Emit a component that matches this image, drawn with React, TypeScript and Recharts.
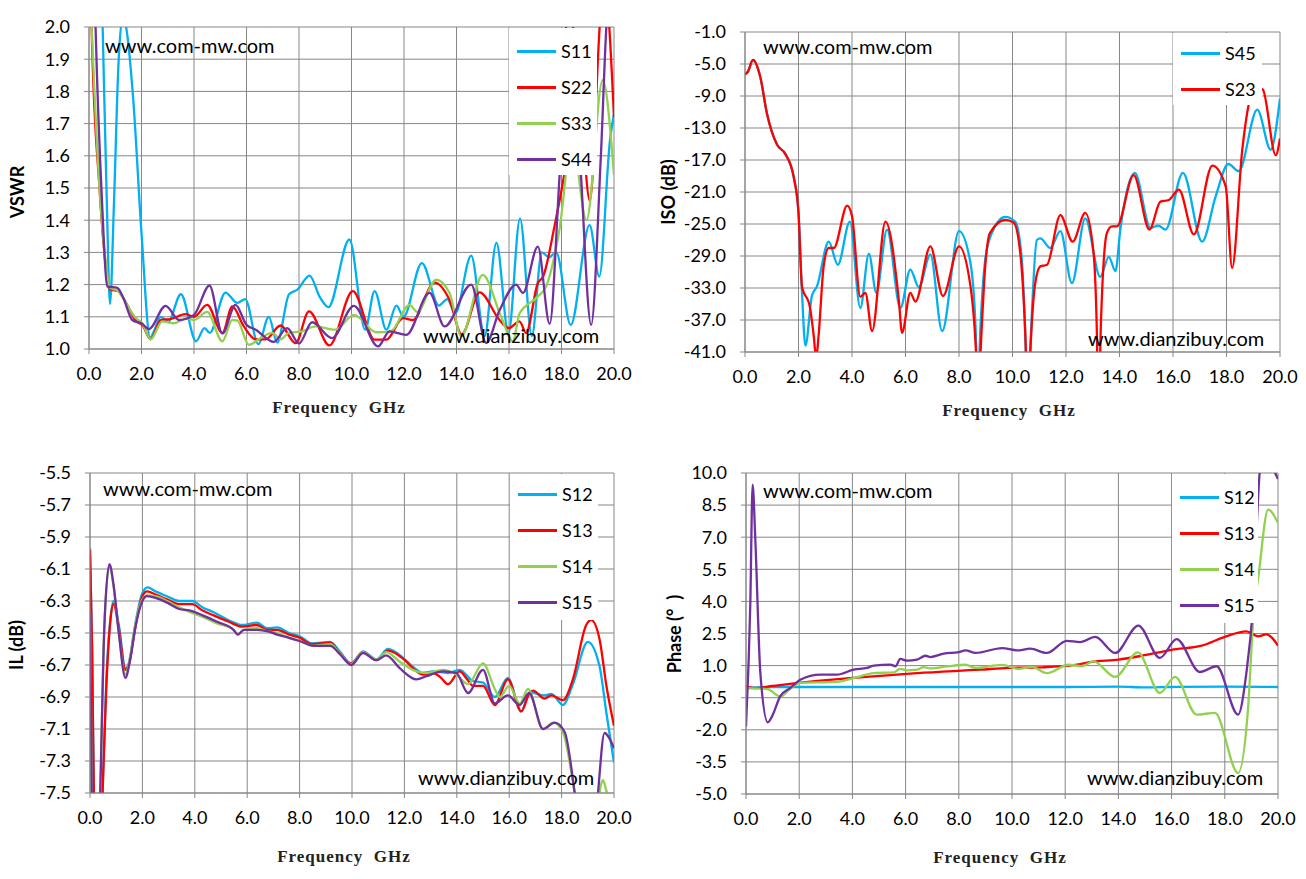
import { LineChart, Line, XAxis, YAxis, CartesianGrid } from 'recharts';

type Pt = [number, number];

// axis ticks
const FREQ_TICKS = [0, 2, 4, 6, 8, 10, 12, 14, 16, 18, 20];
const VSWR_TICKS = [1.0, 1.1, 1.2, 1.3, 1.4, 1.5, 1.6, 1.7, 1.8, 1.9, 2.0];
const ISO_TICKS = [-41, -37, -33, -29, -25, -21, -17, -13, -9, -5, -1];
const IL_TICKS = [-7.5, -7.3, -7.1, -6.9, -6.7, -6.5, -6.3, -6.1, -5.9, -5.7, -5.5];
const PHASE_TICKS = [-5, -3.5, -2, -0.5, 1, 2.5, 4, 5.5, 7, 8.5, 10];

// VSWR (GHz, ratio)
const vswrS11: Pt[] = [
  [0, 3.3], [0.3, 2.7], [0.52, 2.0], [0.68, 1.45], [0.8, 1.14], [0.95, 1.45], [1.12, 1.88], [1.3, 2.04],
  [1.45, 1.98], [1.69, 1.77], [2.0, 1.36], [2.33, 1.035], [2.5, 1.06], [2.73, 1.1], [3.02, 1.085], [3.5, 1.17],
  [4.08, 1.024], [4.4, 1.065], [4.6, 1.05], [5.2, 1.175], [5.65, 1.143], [5.95, 1.155], [6.45, 1.015],
  [6.85, 1.1], [7.17, 1.02], [7.62, 1.17], [7.95, 1.185], [8.4, 1.228], [8.8, 1.16], [9.12, 1.13], [9.92, 1.34],
  [10.52, 1.06], [10.88, 1.18], [11.33, 1.06], [11.71, 1.135], [11.98, 1.1], [12.68, 1.267], [13.33, 1.135],
  [13.65, 1.155], [13.95, 1.11], [14.56, 1.29], [15.07, 1.04], [15.52, 1.33], [15.98, 1.05], [16.42, 1.405],
  [16.87, 1.04], [17.25, 1.3], [17.52, 1.285], [17.8, 1.3], [18.35, 1.075], [19.07, 1.385], [19.44, 1.225],
  [19.85, 1.65], [20, 1.73],
];
const vswrS22: Pt[] = [
  [0, 2.8], [0.1, 2.0], [0.4, 1.5], [0.65, 1.25], [0.8, 1.185], [1.1, 1.18], [1.5, 1.13], [1.8, 1.086],
  [2.03, 1.075], [2.35, 1.03], [2.73, 1.09], [3.1, 1.093], [3.68, 1.108], [4.0, 1.1], [4.5, 1.137], [5.08, 1.05],
  [5.46, 1.132], [5.9, 1.07], [6.35, 1.03], [6.73, 1.03], [7.3, 1.073], [7.87, 1.018], [8.38, 1.117],
  [9.16, 1.011], [10.05, 1.18], [10.88, 1.029], [11.33, 1.029], [11.96, 1.096], [12.34, 1.09], [13.16, 1.206],
  [13.73, 1.153], [14.2, 1.045], [14.88, 1.176], [15.64, 1.09], [16.0, 1.065], [16.4, 1.086], [16.65, 1.05],
  [17.1, 1.205], [17.3, 1.225], [17.73, 1.38], [18.11, 1.545], [18.6, 1.85], [19.08, 1.46], [19.5, 2.05],
  [19.65, 2.12], [20, 1.72],
];
const vswrS33: Pt[] = [
  [0, 2.2], [0.1, 2.0], [0.4, 1.5], [0.65, 1.26], [0.8, 1.19], [1.1, 1.18], [1.5, 1.13], [1.78, 1.096],
  [2.03, 1.08], [2.35, 1.03], [2.79, 1.086], [3.24, 1.08], [3.7, 1.095], [4.0, 1.09], [4.5, 1.115], [5.08, 1.024],
  [5.46, 1.09], [5.65, 1.088], [6.09, 1.013], [6.54, 1.034], [6.98, 1.05], [7.3, 1.03], [7.61, 1.05],
  [8.12, 1.055], [8.63, 1.07], [9.39, 1.06], [10.09, 1.106], [10.94, 1.052], [11.5, 1.055], [12.21, 1.137],
  [12.5, 1.115], [13.23, 1.215], [13.74, 1.173], [14.18, 1.04], [15.0, 1.23], [15.7, 1.1], [16.15, 1.024],
  [16.4, 1.11], [17.03, 1.158], [17.41, 1.194], [17.92, 1.37], [18.4, 1.65], [18.95, 1.4], [19.57, 1.835],
  [20, 1.54],
];
const vswrS44: Pt[] = [
  [0, 3.0], [0.25, 2.0], [0.5, 1.45], [0.7, 1.194], [1.08, 1.19], [1.3, 1.16], [1.65, 1.09], [2.03, 1.078],
  [2.28, 1.062], [2.92, 1.134], [3.43, 1.09], [4.0, 1.106], [4.59, 1.197], [5.08, 1.048], [5.58, 1.137],
  [6.0, 1.075], [6.35, 1.06], [7.04, 1.022], [7.55, 1.065], [8.0, 1.017], [8.5, 1.083], [9.26, 1.034],
  [10.09, 1.134], [11.01, 1.008], [11.45, 1.055], [12.09, 1.044], [12.97, 1.174], [13.55, 1.07], [14.56, 1.2],
  [15.13, 1.019], [15.64, 1.12], [16.27, 1.2], [16.53, 1.174], [17.1, 1.318], [17.55, 1.078], [17.9, 1.5],
  [18.3, 2.1], [18.7, 1.6], [19.13, 1.075], [19.5, 1.6], [19.75, 2.05], [20, 2.15],
];

// isolation (GHz, dB)
const isoS45: Pt[] = [
  [0, -6.3], [0.1, -6.0], [0.3, -4.5], [0.57, -6.6], [0.82, -11.2], [1.2, -15.1], [1.5, -16.2], [1.82, -19.1],
  [2.0, -23.6], [2.13, -33.5], [2.26, -40.2], [2.5, -34.0], [2.69, -32.8], [3.13, -27.2], [3.47, -30.1],
  [3.92, -24.7], [4.31, -35.5], [4.63, -28.7], [4.91, -33.6], [5.31, -25.7], [5.81, -35.5], [6.18, -30.7],
  [6.5, -32.9], [6.93, -28.8], [7.37, -38.4], [8.0, -25.9], [8.43, -29.9], [8.62, -38], [8.7, -46], [8.8, -38],
  [8.98, -29.5], [9.23, -26.1], [9.73, -24.1], [10.1, -24.7], [10.35, -29.5], [10.5, -41], [10.57, -48],
  [10.66, -41], [10.91, -27.0], [11.04, -26.8], [11.41, -28.0], [11.79, -25.9], [12.22, -32.4], [12.72, -24.3],
  [13.28, -31.6], [13.6, -29.1], [13.85, -30.9], [14.03, -25.7], [14.57, -18.6], [15.16, -25.5], [15.45, -25.2],
  [15.72, -25.7], [16.37, -18.6], [17.09, -27.2], [17.59, -21.6], [18.07, -17.5], [18.46, -18.4], [19.15, -10.7],
  [19.65, -15.7], [20, -9.3],
];
const isoS23: Pt[] = [
  [0, -6.3], [0.1, -6.0], [0.3, -4.5], [0.57, -6.6], [0.82, -11.2], [1.2, -15.1], [1.5, -16.2], [1.82, -19.1],
  [2.0, -23.6], [2.13, -32.8], [2.42, -35.3], [2.57, -39], [2.66, -41.8], [2.75, -39], [2.94, -30.3],
  [3.13, -28.0], [3.32, -28.0], [3.82, -22.7], [4.0, -24], [4.31, -34.1], [4.5, -33.6], [4.75, -38.4],
  [5.25, -24.7], [5.75, -34.5], [5.87, -38.6], [6.18, -33.6], [6.37, -34.7], [6.93, -27.8], [7.4, -34.0],
  [8.0, -27.8], [8.43, -32.8], [8.62, -40], [8.72, -47], [8.82, -40], [8.98, -30.3], [9.16, -26.1],
  [9.73, -24.5], [10.04, -24.8], [10.29, -28.6], [10.47, -38], [10.58, -48], [10.68, -40], [10.85, -32.4],
  [11.04, -30.3], [11.29, -30.1], [11.79, -23.9], [12.25, -27.2], [12.72, -23.6], [13.03, -28.6], [13.15, -38],
  [13.22, -50], [13.3, -38], [13.53, -26.1], [13.72, -25.3], [13.9, -25.3], [14.53, -18.9], [15.12, -25.7],
  [15.53, -22.2], [15.84, -22.0], [16.22, -20.7], [16.78, -26.3], [17.47, -17.7], [17.97, -20.3],
  [18.21, -30.5], [18.59, -15.7], [18.84, -9.9], [19.1, -7.8], [19.36, -8.2], [19.84, -16.4], [20, -14.3],
];

// insertion loss (GHz, dB)
const ilS12: Pt[] = [
  [0, -5.97], [0.08, -6.6], [0.17, -7.8], [0.3, -8.3], [0.46, -7.6], [0.62, -6.8], [0.78, -6.41], [0.9, -6.3],
  [1.1, -6.45], [1.35, -6.72], [1.5, -6.68], [1.67, -6.5], [2.0, -6.25], [2.2, -6.215], [2.5, -6.24],
  [2.94, -6.27], [3.4, -6.3], [3.9, -6.3], [4.3, -6.34], [4.72, -6.37], [5.3, -6.42], [5.8, -6.45],
  [6.37, -6.435], [6.76, -6.47], [7.14, -6.465], [7.6, -6.5], [8.0, -6.52], [8.47, -6.565], [9.17, -6.555],
  [9.53, -6.615], [9.97, -6.69], [10.42, -6.615], [10.93, -6.665], [11.37, -6.6], [11.95, -6.655],
  [12.39, -6.72], [12.71, -6.75], [13.09, -6.74], [13.66, -6.75], [14.11, -6.73], [14.62, -6.8], [15.0, -6.81],
  [15.45, -6.9], [15.95, -6.78], [16.46, -6.99], [16.78, -6.87], [17.35, -6.89], [17.61, -6.88], [18.05, -6.95],
  [18.43, -6.82], [19.0, -6.556], [19.45, -6.71], [19.71, -7.0], [20, -7.31],
];
const ilS13: Pt[] = [
  [0, -5.98], [0.08, -6.6], [0.17, -7.8], [0.3, -8.4], [0.46, -7.6], [0.62, -6.85], [0.78, -6.42], [0.9, -6.32],
  [1.1, -6.47], [1.35, -6.73], [1.5, -6.69], [1.67, -6.52], [2.0, -6.27], [2.18, -6.24], [2.5, -6.26],
  [2.94, -6.29], [3.4, -6.32], [3.9, -6.32], [4.3, -6.36], [4.72, -6.39], [5.3, -6.43], [5.8, -6.46],
  [6.37, -6.45], [6.76, -6.48], [7.14, -6.48], [7.6, -6.51], [8.0, -6.53], [8.47, -6.57], [9.17, -6.56],
  [9.53, -6.625], [9.97, -6.69], [10.42, -6.62], [10.93, -6.67], [11.37, -6.61], [11.95, -6.66], [12.39, -6.73],
  [12.71, -6.76], [13.09, -6.75], [13.4, -6.78], [13.66, -6.82], [14.11, -6.74], [14.4, -6.79], [14.62, -6.83],
  [15.0, -6.83], [15.45, -6.95], [15.95, -6.79], [16.46, -6.99], [16.78, -6.875], [16.91, -6.86], [17.35, -6.91],
  [17.61, -6.89], [18.05, -6.92], [18.43, -6.79], [18.94, -6.45], [19.13, -6.42], [19.45, -6.54],
  [19.71, -6.83], [20, -7.08],
];
const ilS14: Pt[] = [
  [0, -6.38], [0.04, -7.0], [0.08, -7.8], [0.2, -8.6], [0.39, -7.5], [0.55, -6.45], [0.74, -6.08], [0.9, -6.21],
  [1.1, -6.5], [1.35, -6.76], [1.55, -6.63], [1.75, -6.43], [2.0, -6.29], [2.2, -6.265], [2.5, -6.27],
  [2.94, -6.3], [3.4, -6.34], [3.83, -6.37], [4.3, -6.4], [4.85, -6.44], [5.48, -6.48], [5.64, -6.51],
  [5.87, -6.48], [6.37, -6.47], [6.8, -6.49], [7.14, -6.5], [7.6, -6.53], [8.0, -6.55], [8.54, -6.58],
  [9.17, -6.57], [9.53, -6.625], [9.97, -6.695], [10.42, -6.62], [10.93, -6.665], [11.31, -6.62], [11.82, -6.68],
  [12.46, -6.74], [12.84, -6.75], [13.47, -6.73], [13.98, -6.76], [14.43, -6.82], [15.0, -6.69], [15.45, -6.85],
  [15.64, -6.9], [16.0, -6.83], [16.4, -6.94], [16.72, -6.85], [17.29, -7.1], [17.67, -7.06], [18.05, -7.12],
  [18.5, -7.5], [18.9, -7.9], [19.3, -7.7], [19.5, -7.45], [19.58, -7.42], [19.7, -7.48], [19.9, -7.6],
  [20, -7.7],
];
const ilS15: Pt[] = [
  [0, -6.38], [0.04, -7.0], [0.08, -7.8], [0.2, -8.6], [0.39, -7.5], [0.55, -6.45], [0.74, -6.07], [0.9, -6.2],
  [1.1, -6.5], [1.35, -6.78], [1.55, -6.65], [1.75, -6.45], [2.0, -6.3], [2.18, -6.27], [2.5, -6.28],
  [2.94, -6.31], [3.4, -6.35], [3.83, -6.36], [4.3, -6.39], [4.85, -6.43], [5.48, -6.48], [5.64, -6.51],
  [5.87, -6.48], [6.37, -6.48], [6.8, -6.49], [7.14, -6.51], [7.6, -6.53], [8.0, -6.55], [8.54, -6.58],
  [9.17, -6.58], [9.53, -6.63], [9.97, -6.7], [10.42, -6.625], [10.93, -6.67], [11.31, -6.64], [11.82, -6.72],
  [12.46, -6.79], [12.84, -6.77], [13.47, -6.74], [13.98, -6.75], [14.43, -6.875], [15.0, -6.73],
  [15.45, -6.94], [15.95, -6.89], [16.4, -6.95], [16.76, -6.875], [17.29, -7.1], [17.74, -7.06],
  [18.12, -7.12], [18.5, -7.5], [18.8, -7.9], [19.2, -7.9], [19.39, -7.5], [19.64, -7.125], [19.83, -7.16],
  [20, -7.22],
];

// phase (GHz, degrees)
const phS12: Pt[] = [
  [0, -0.05], [1, 0.0], [2, 0.0], [4, 0.0], [6, 0.0], [8, 0.0], [10, 0.0], [12, 0.0], [14, 0.02], [15, -0.02],
  [16, 0.0], [18, 0.02], [20, 0.0],
];
const phS13: Pt[] = [
  [0, 0.03], [0.35, -0.05], [1, 0.05], [2.04, 0.2], [3.92, 0.41], [6.43, 0.65], [8.8, 0.81], [9.88, 0.89],
  [11.13, 0.92], [12.38, 1.03], [13.0, 1.17], [14.0, 1.28], [14.88, 1.46], [16.0, 1.74], [17.13, 1.93],
  [18.0, 2.34], [18.81, 2.6], [19.25, 2.37], [19.56, 2.46], [20, 1.93],
];
const phS14: Pt[] = [
  [0, -0.05], [0.8, -0.1], [1.3, -0.45], [1.6, -0.15], [2.04, 0.19], [3.42, 0.24], [4.05, 0.41], [4.8, 0.65],
  [5.55, 0.68], [5.8, 0.85], [6.06, 0.78], [6.43, 0.81], [6.68, 0.93], [6.93, 0.87], [7.56, 0.96], [8.25, 1.04],
  [8.63, 0.89], [9.63, 1.03], [10.25, 0.84], [10.75, 0.94], [11.31, 0.65], [12.13, 1.04], [12.63, 0.97],
  [13.06, 1.2], [13.88, 0.47], [14.73, 1.62], [15.56, -0.28], [16.13, 0.47], [16.94, -1.29], [17.63, -1.21],
  [18.5, -4.02], [18.88, -0.9], [19.06, 3.0], [19.28, 5.33], [19.63, 8.29], [20, 7.66],
];
const phS15: Pt[] = [
  [0, -1.84], [0.16, 3.8], [0.25, 9.45], [0.35, 6.9], [0.54, 0.65], [0.82, -1.65], [0.98, -1.37], [1.29, -0.43],
  [1.67, -0.04], [2.04, 0.34], [2.8, 0.58], [3.42, 0.58], [4.05, 0.81], [4.55, 0.89], [4.8, 1.0], [5.43, 1.05],
  [5.62, 0.97], [5.8, 1.31], [6.06, 1.23], [6.43, 1.28], [6.75, 1.46], [6.93, 1.4], [7.44, 1.56], [8.0, 1.63],
  [8.25, 1.71], [8.63, 1.59], [9.63, 1.82], [10.19, 1.71], [10.69, 1.79], [11.31, 1.59], [12.06, 2.16],
  [12.56, 2.1], [13.13, 2.34], [13.88, 1.59], [14.75, 2.87], [15.56, 1.36], [16.19, 2.24], [17.06, 0.7],
  [17.69, 0.97], [18.5, -1.29], [18.81, 0.65], [19.06, 3.77], [19.31, 10.0], [19.5, 11.3], [19.75, 10.4],
  [20, 9.72],
];

const CYAN = '#00b0f0';
const RED = '#ff0000';
const GREEN = '#92d050';
const PURPLE = '#7030a0';
const GRID = '#878787';
const SANS = 'Lato, "Open Sans", sans-serif';
const SERIF = '"Liberation Serif", "DejaVu Serif", serif';

interface Series {
  name: string;
  color: string;
  pts: Pt[];
}

interface Box {
  left: number;
  top: number;
  right: number;
  bottom: number;
}

interface PanelProps {
  plot: Box;
  yDomain: [number, number];
  yTicks: number[];
  series: Series[];
  yTitle: string;
  yTitleAt: [number, number];
  xTitleAt: [number, number];
  legend: { left: number; top: number; width: number; height: number; firstRow: number };
  marks: { text: string; left: number; baseline: number }[];
}

const toRows = (pts: Pt[]) => pts.map(([f, v]) => ({ f, v }));

const PAD_L = 75;
const PAD_T = 22;
const PAD_R = 20;
const PAD_B = 50;
const Y_W = 60;
const X_H = 45;

function Panel({ plot, yDomain, yTicks, series, yTitle, yTitleAt, xTitleAt, legend, marks }: PanelProps) {
  const w = plot.right - plot.left + PAD_L + PAD_R;
  const h = plot.bottom - plot.top + PAD_T + PAD_B;
  const tick = { fontSize: 18, fill: '#000', fontFamily: SANS };

  return (
    <>
      <div style={{ position: 'absolute', left: plot.left - PAD_L, top: plot.top - PAD_T }}>
        <LineChart
          width={w}
          height={h}
          margin={{ top: PAD_T, right: PAD_R, left: PAD_L - Y_W, bottom: PAD_B - X_H }}
        >
          <CartesianGrid stroke={GRID} strokeWidth={1} />
          <XAxis
            type="number"
            dataKey="f"
            domain={[0, 20]}
            ticks={FREQ_TICKS}
            interval={0}
            allowDataOverflow
            height={X_H}
            tick={tick}
            tickSize={5}
            tickMargin={13}
            tickLine={{ stroke: GRID }}
            axisLine={{ stroke: GRID }}
            tickFormatter={(v: number) => v.toFixed(1)}
          />
          <YAxis
            type="number"
            dataKey="v"
            domain={yDomain}
            ticks={yTicks}
            interval={0}
            allowDataOverflow
            width={Y_W}
            tick={tick}
            tickSize={5}
            tickMargin={14}
            tickLine={{ stroke: GRID }}
            axisLine={{ stroke: GRID }}
            tickFormatter={(v: number) => v.toFixed(1)}
          />
          {series.map((s) => (
            <Line
              key={s.name}
              data={toRows(s.pts)}
              dataKey="v"
              type="monotone"
              stroke={s.color}
              strokeWidth={2.3}
              dot={false}
              isAnimationActive={false}
            />
          ))}
        </LineChart>
      </div>

      {marks.map((m) => (
        <div
          key={m.text}
          style={{
            position: 'absolute',
            left: m.left,
            top: m.baseline - 17,
            fontFamily: SANS,
            fontSize: 20,
            lineHeight: '20px',
            color: '#000',
            whiteSpace: 'nowrap',
          }}
        >
          {m.text}
        </div>
      ))}

      <div
        style={{
          position: 'absolute',
          left: legend.left,
          top: legend.top,
          width: legend.width,
          height: legend.height,
          background: '#fff',
        }}
      >
        {series.map((s, i) => (
          <div
            key={s.name}
            style={{
              position: 'absolute',
              left: 0,
              top: legend.firstRow + i * 36 - 10,
              height: 20,
              width: legend.width,
            }}
          >
            <span
              style={{
                position: 'absolute',
                left: 8,
                top: 9,
                width: 39,
                height: 2.5,
                background: s.color,
              }}
            />
            <span
              style={{
                position: 'absolute',
                left: 52,
                top: 0,
                fontFamily: SANS,
                fontSize: 18,
                lineHeight: '20px',
                color: '#000',
              }}
            >
              {s.name}
            </span>
          </div>
        ))}
      </div>

      <div
        style={{
          position: 'absolute',
          left: yTitleAt[0],
          top: yTitleAt[1],
          transform: 'translate(-50%, -50%) rotate(-90deg)',
          fontFamily: SANS,
          fontWeight: 700,
          fontSize: 18,
          whiteSpace: 'pre',
          color: '#000',
        }}
      >
        {yTitle}
      </div>
      <div
        style={{
          position: 'absolute',
          left: xTitleAt[0],
          top: xTitleAt[1],
          transform: 'translate(-50%, -50%)',
          fontFamily: SERIF,
          fontWeight: 700,
          fontSize: 17,
          letterSpacing: 1,
          whiteSpace: 'pre',
          color: '#222',
        }}
      >
        {'Frequency  GHz'}
      </div>
    </>
  );
}

export default function App() {
  return (
    <div
      style={{
        position: 'absolute',
        left: 0,
        top: 0,
        width: 1306,
        height: 879,
        background: '#fff',
        overflow: 'hidden',
      }}
    >
      <Panel
        plot={{ left: 89, top: 27, right: 614, bottom: 349 }}
        yDomain={[1, 2]}
        yTicks={VSWR_TICKS}
        series={[
          { name: 'S11', color: CYAN, pts: vswrS11 },
          { name: 'S22', color: RED, pts: vswrS22 },
          { name: 'S33', color: GREEN, pts: vswrS33 },
          { name: 'S44', color: PURPLE, pts: vswrS44 },
        ]}
        yTitle="VSWR"
        yTitleAt={[17, 192]}
        xTitleAt={[339, 408]}
        legend={{ left: 509, top: 28, width: 88, height: 147, firstRow: 23 }}
        marks={[
          { text: 'www.com-mw.com', left: 105, baseline: 52 },
          { text: 'www.dianzibuy.com', left: 423, baseline: 342 },
        ]}
      />
      <Panel
        plot={{ left: 745, top: 32, right: 1280, bottom: 352 }}
        yDomain={[-41, -1]}
        yTicks={ISO_TICKS}
        series={[
          { name: 'S45', color: CYAN, pts: isoS45 },
          { name: 'S23', color: RED, pts: isoS23 },
        ]}
        yTitle="ISO (dB)"
        yTitleAt={[668, 192]}
        xTitleAt={[1009, 411]}
        legend={{ left: 1173, top: 33, width: 89, height: 72, firstRow: 20 }}
        marks={[
          { text: 'www.com-mw.com', left: 763, baseline: 53 },
          { text: 'www.dianzibuy.com', left: 1088, baseline: 345 },
        ]}
      />
      <Panel
        plot={{ left: 90, top: 473, right: 614, bottom: 793 }}
        yDomain={[-7.5, -5.5]}
        yTicks={IL_TICKS}
        series={[
          { name: 'S12', color: CYAN, pts: ilS12 },
          { name: 'S13', color: RED, pts: ilS13 },
          { name: 'S14', color: GREEN, pts: ilS14 },
          { name: 'S15', color: PURPLE, pts: ilS15 },
        ]}
        yTitle="IL (dB)"
        yTitleAt={[16, 645]}
        xTitleAt={[344, 857]}
        legend={{ left: 510, top: 474, width: 88, height: 146, firstRow: 20 }}
        marks={[
          { text: 'www.com-mw.com', left: 103, baseline: 495 },
          { text: 'www.dianzibuy.com', left: 418, baseline: 784 },
        ]}
      />
      <Panel
        plot={{ left: 746, top: 473, right: 1278, bottom: 794 }}
        yDomain={[-5, 10]}
        yTicks={PHASE_TICKS}
        series={[
          { name: 'S12', color: CYAN, pts: phS12 },
          { name: 'S13', color: RED, pts: phS13 },
          { name: 'S14', color: GREEN, pts: phS14 },
          { name: 'S15', color: PURPLE, pts: phS15 },
        ]}
        yTitle="Phase (°  )"
        yTitleAt={[674, 634]}
        xTitleAt={[1000, 858]}
        legend={{ left: 1172, top: 474, width: 86, height: 149, firstRow: 23 }}
        marks={[
          { text: 'www.com-mw.com', left: 763, baseline: 497 },
          { text: 'www.dianzibuy.com', left: 1087, baseline: 784 },
        ]}
      />
    </div>
  );
}
